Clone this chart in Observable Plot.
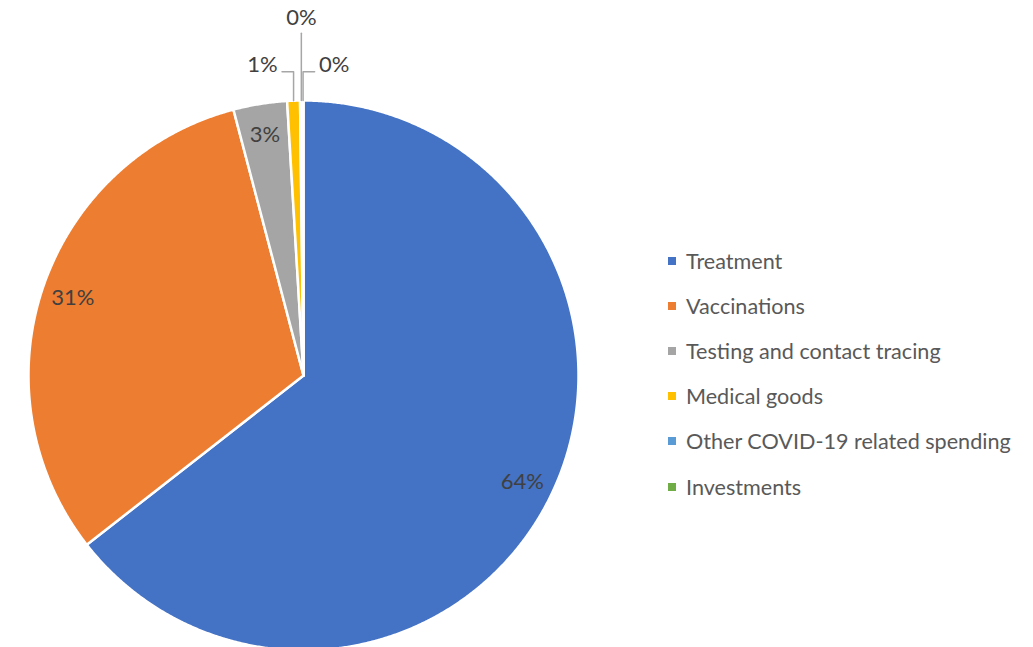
<!DOCTYPE html>
<html>
<head>
<meta charset="utf-8">
<script src="https://cdn.jsdelivr.net/npm/d3@7"></script>
<script src="https://cdn.jsdelivr.net/npm/@observablehq/plot@0.6"></script>
<style>
  html, body { margin: 0; padding: 0; background: #ffffff; }
  #wrap { position: relative; width: 1033px; height: 647px; overflow: hidden; font-family: Lato, "Open Sans", sans-serif; }
  #chart { position: absolute; left: 0; top: 0; }
  #legend { position: absolute; left: 668px; top: 238px; }
  .row { display: flex; align-items: center; height: 45.2px; font-size: 21.6px; color: #595959; white-space: nowrap; }
  .sw { width: 8px; height: 8px; margin-right: 10px; flex: none; }
</style>
</head>
<body>
<div id="wrap"><div id="chart"></div><div id="legend"></div></div>
<script>
// ---- data ----
const categories = [
  "Treatment",
  "Vaccinations",
  "Testing and contact tracing",
  "Medical goods",
  "Other COVID-19 related spending",
  "Investments"
];
const shares = [64.45, 31.45, 3.15, 0.75, 0.15, 0.05];
const colors = ["#4472C4", "#ED7D31", "#A5A5A5", "#FFC000", "#5B9BD5", "#70AD47"];

// ---- layout helpers ----
const FONT = "Lato, 'Open Sans', sans-serif";
const total = d3.sum(shares);
const rows = categories.map((c, i) => ({category: c, value: shares[i], color: colors[i]}));
const arcs = d3.pie().sort(null).value(d => d.value)(rows);

// polygon points for each slice (unit circle, y up, angle 0 at top, clockwise)
const slicePts = arcs.map(s => {
  const pts = [{x: 0, y: 0}];
  const n = Math.max(2, Math.ceil((s.endAngle - s.startAngle) / 0.005));
  for (let k = 0; k <= n; k++) {
    const a = s.startAngle + (s.endAngle - s.startAngle) * k / n;
    pts.push({x: Math.sin(a), y: Math.cos(a)});
  }
  pts.push({x: 0, y: 0});
  return {color: s.data.color, pts};
});

const pct = v => Math.round(v / total * 100) + "%";

// inside labels for larger slices
const inside = arcs.filter(s => s.data.value / total >= 0.02).map(s => {
  const a = (s.startAngle + s.endAngle) / 2;
  return {x: 0.885 * Math.sin(a), y: 0.885 * Math.cos(a), text: pct(s.data.value)};
});

// outside labels (with leader lines) for small slices: left, up, right
const small = arcs.filter(s => s.data.value / total < 0.02);
const sides = ["left", "up", "right"];
const outside = [];
const leaders = [];
small.forEach((s, i) => {
  const a = (s.startAngle + s.endAngle) / 2;
  const ax = Math.sin(a), ay = Math.cos(a);
  const side = sides[i % 3];
  const text = pct(s.data.value);
  if (side === "up") {
    leaders.push({id: i, x: ax, y: ay}, {id: i, x: ax, y: 1.245});
    outside.push({x: ax, y: 1.30, text, anchor: "middle"});
  } else {
    const dir = side === "left" ? -1 : 1;
    const ey = 1.105;
    leaders.push({id: i, x: ax, y: ay}, {id: i, x: ax, y: ey}, {id: i, x: ax + dir * 0.042, y: ey});
    outside.push({x: ax + dir * 0.058, y: 1.13, text, anchor: dir < 0 ? "end" : "start"});
  }
});

const labelStyle = {x: "x", y: "y", text: "text", fill: "#404040", fontSize: 22, fontFamily: FONT};

const chart = Plot.plot({
  width: 1033,
  height: 647,
  margin: 0,
  style: {background: "transparent", overflow: "visible", fontFamily: FONT},
  x: {domain: [-1, 1], range: [28, 578], axis: null},
  y: {domain: [-1, 1], range: [650, 100], axis: null},
  marks: [
    ...slicePts.map(s => Plot.line(s.pts, {
      x: "x", y: "y", fill: s.color, stroke: "white", strokeWidth: 2.5, strokeLinejoin: "round", curve: "linear"
    })),
    Plot.line(leaders, {x: "x", y: "y", z: "id", stroke: "#A6A6A6", strokeWidth: 1.5}),
    Plot.text(inside, labelStyle),
    Plot.text(outside.filter(d => d.anchor === "middle"), {...labelStyle, textAnchor: "middle"}),
    Plot.text(outside.filter(d => d.anchor === "end"), {...labelStyle, textAnchor: "end"}),
    Plot.text(outside.filter(d => d.anchor === "start"), {...labelStyle, textAnchor: "start"})
  ]
});
document.getElementById("chart").appendChild(chart);

// legend
const legend = document.getElementById("legend");
rows.forEach(r => {
  const row = document.createElement("div");
  row.className = "row";
  const sw = document.createElement("span");
  sw.className = "sw";
  sw.style.background = r.color;
  const t = document.createElement("span");
  t.textContent = r.category;
  row.appendChild(sw);
  row.appendChild(t);
  legend.appendChild(row);
});
</script>
</body>
</html>
